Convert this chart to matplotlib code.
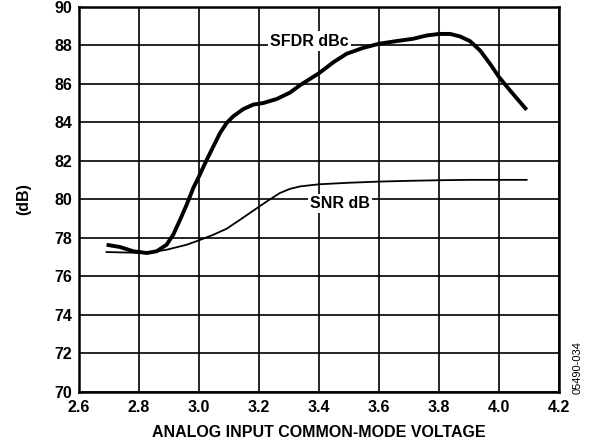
import numpy as np
import matplotlib.pyplot as plt

plt.rcParams['font.family'] = ['Liberation Sans', 'DejaVu Sans']

# data
sfdr_v = [2.692, 2.737, 2.781, 2.826, 2.859, 2.892, 2.914, 2.937, 2.959, 2.981, 3.000, 3.026, 3.048,
          3.070, 3.092, 3.114, 3.148, 3.181, 3.214, 3.259, 3.303, 3.337, 3.400, 3.448, 3.492, 3.548,
          3.600, 3.659, 3.714, 3.759, 3.800, 3.837, 3.870, 3.903, 3.937, 3.970, 4.000, 4.037, 4.070, 4.092]
sfdr_db = [77.65, 77.53, 77.31, 77.22, 77.31, 77.65, 78.17, 78.95, 79.73, 80.60, 81.20, 82.07, 82.76,
           83.45, 83.97, 84.32, 84.70, 84.93, 85.01, 85.22, 85.55, 85.94, 86.56, 87.13, 87.57, 87.88,
           88.09, 88.23, 88.35, 88.52, 88.60, 88.60, 88.47, 88.23, 87.74, 87.05, 86.36, 85.66, 85.06, 84.66]

snr_v = [2.692, 2.826, 2.892, 2.959, 3.000, 3.048, 3.092, 3.137, 3.181, 3.226, 3.270, 3.303, 3.337,
         3.400, 3.500, 3.600, 3.700, 3.800, 3.900, 4.000, 4.092]
snr_db = [77.27, 77.22, 77.39, 77.65, 77.88, 78.17, 78.48, 78.95, 79.42, 79.90, 80.34, 80.55, 80.68,
          80.79, 80.87, 80.93, 80.97, 81.00, 81.02, 81.02, 81.02]

xticks = [2.6, 2.8, 3.0, 3.2, 3.4, 3.6, 3.8, 4.0, 4.2]
yticks = [70, 72, 74, 76, 78, 80, 82, 84, 86, 88, 90]

fig = plt.figure(figsize=(5.89, 4.45), dpi=100)
ax = fig.add_axes([0.1341, 0.1191, 0.815, 0.8652])

ax.plot(snr_v, snr_db, color='black', lw=1.3, zorder=3, solid_joinstyle='round')
ax.plot(sfdr_v, sfdr_db, color='black', lw=2.8, zorder=4, solid_joinstyle='round', solid_capstyle='butt')

ax.set_xlim(2.6, 4.2)
ax.set_ylim(70, 90)
ax.set_xticks(xticks)
ax.set_yticks(yticks)
ax.set_xticklabels(['%.1f' % t for t in xticks], fontweight='bold', fontsize=11.5)
ax.set_yticklabels([str(t) for t in yticks], fontweight='bold', fontsize=11.5)
ax.tick_params(axis='x', length=0, pad=5.5)
ax.tick_params(axis='y', length=0, pad=5)
ax.grid(True, color='black', lw=1.2)
ax.set_axisbelow(True)
for s in ax.spines.values():
    s.set_linewidth(1.8)

ax.set_xlabel('ANALOG INPUT COMMON-MODE VOLTAGE', fontweight='bold', fontsize=11.5, va='center')
ax.xaxis.set_label_coords(0.5, -0.104)
ax.set_ylabel('(dB)', fontweight='bold', fontsize=11.5, va='center')
ax.yaxis.set_label_coords(-0.115, 0.5)

box = dict(facecolor='white', edgecolor='none', pad=1.5)
ax.text(3.237, 88.23, 'SFDR dBc', fontweight='bold', fontsize=11.5, ha='left', va='center', bbox=box, zorder=2)
ax.text(3.37, 79.8, 'SNR dB', fontweight='bold', fontsize=11.5, ha='left', va='center', bbox=box, zorder=2)

fig.text(0.981, 0.175, '05490-034', rotation=90, fontsize=8, ha='center', va='center')

fig.savefig('out.png', dpi=100)
